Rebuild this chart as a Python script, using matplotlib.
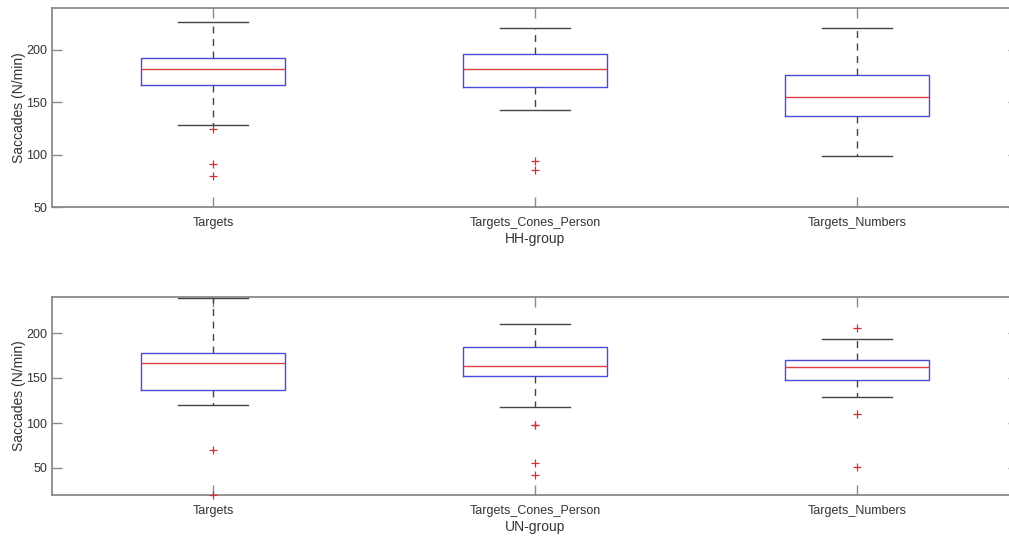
import matplotlib.pyplot as plt

categorias = ['Targets', 'Targets_Cones_Person', 'Targets_Numbers']

# HH-group
hh_whislo = [128.6, 142.6, 99.0]
hh_q1 = [166.5, 164.3, 136.7]
hh_med = [181.5, 182.0, 154.8]
hh_q3 = [192.0, 196.0, 176.4]
hh_whishi = [227.0, 220.6, 221.0]
hh_fliers = [[124.2, 91.0, 79.6], [94.3, 85.0], []]

# UN-group
un_whislo = [120.4, 118.1, 128.5]
un_q1 = [136.6, 151.8, 147.7]
un_med = [166.8, 163.2, 161.7]
un_q3 = [177.9, 184.5, 169.8]
un_whishi = [239.0, 210.4, 193.8]
un_fliers = [[69.5, 20.0], [98.0, 97.5, 55.9, 41.8], [205.5, 110.4, 51.4]]

grupos = [
    ('HH-group', hh_whislo, hh_q1, hh_med, hh_q3, hh_whishi, hh_fliers, (50, 240), [50, 100, 150, 200]),
    ('UN-group', un_whislo, un_q1, un_med, un_q3, un_whishi, un_fliers, (20, 240), [50, 100, 150, 200]),
]

plt.rcParams['font.family'] = ['Liberation Sans', 'DejaVu Sans']

fig = plt.figure(figsize=(10.09, 5.36), dpi=100)
posicoes = [
    [52 / 1009, 1 - 207 / 536, (1018 - 52) / 1009, (207 - 8) / 536],
    [52 / 1009, 1 - 495 / 536, (1018 - 52) / 1009, (495 - 297) / 536],
]

cinza = '#8a8a8a'
texto = '#333333'

for pos, (nome, wlo, q1, med, q3, whi, fl, ylim, yticks) in zip(posicoes, grupos):
    ax = fig.add_axes(pos)
    stats = []
    for i in range(3):
        stats.append({'whislo': wlo[i], 'q1': q1[i], 'med': med[i], 'q3': q3[i],
                      'whishi': whi[i], 'fliers': fl[i]})
    partes = ax.bxp(stats, positions=[1, 2, 3], widths=0.45, showfliers=True,
                    boxprops=dict(color='#4b4bd6', linewidth=1.0),
                    medianprops=dict(color='#e04040', linewidth=1.0),
                    whiskerprops=dict(color='#444444', linestyle=(0, (5, 4)), linewidth=1.0),
                    capprops=dict(color='#444444', linewidth=1.0),
                    capwidths=0.22,
                    flierprops=dict(marker='+', markeredgecolor='#d03030', markersize=6,
                                    linestyle='none', markeredgewidth=0.9))
    for f in partes['fliers']:
        f.set_clip_on(False)
        f.set_zorder(4)
    ax.set_xlim(0.5, 3.5)
    ax.set_ylim(*ylim)
    ax.set_yticks(yticks)
    ax.set_xticks([1, 2, 3])
    ax.set_xticklabels(categorias)
    ax.tick_params(direction='in', length=7, width=1.0, color=cinza,
                   labelsize=9, labelcolor=texto, top=True, right=True)
    ax.tick_params(axis='x', pad=7)
    for s in ax.spines.values():
        s.set_color(cinza)
        s.set_linewidth(1.3)
    ax.set_ylabel('Saccades (N/min)', fontsize=10, color=texto, labelpad=0)
    ax.set_xlabel(nome, fontsize=10, color=texto, labelpad=2)

fig.savefig('out.png', dpi=100)
